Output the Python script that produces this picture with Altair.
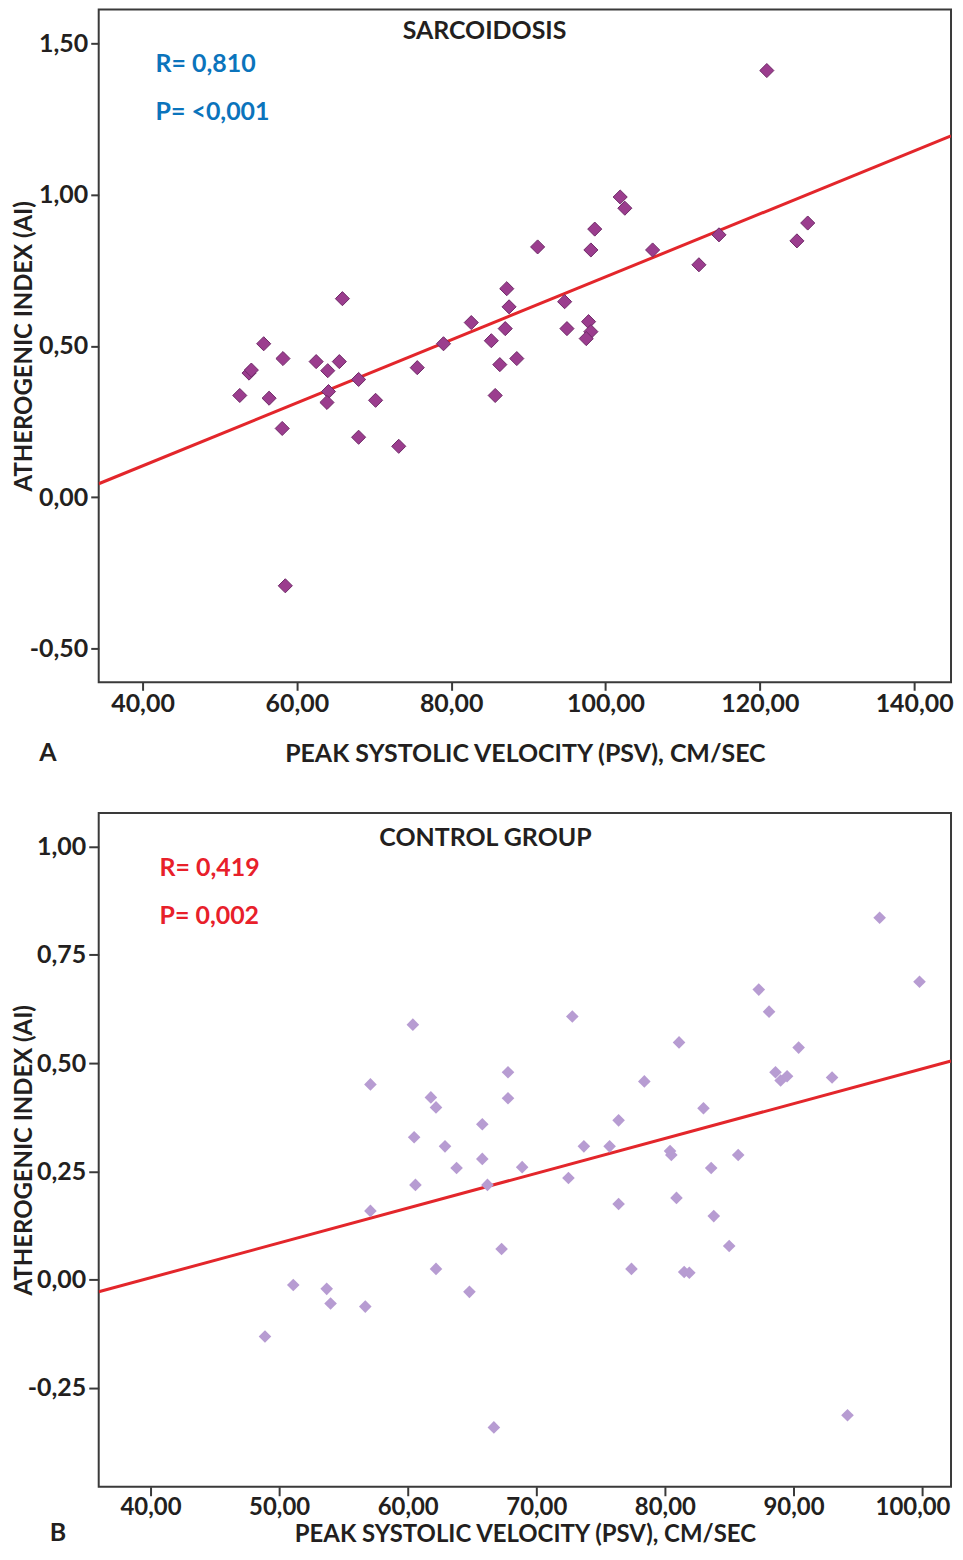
import altair as alt
import pandas as pd

# ---------------- Panel A: sarcoidosis ----------------
sarc_psv = [52.6, 53.8, 54.1, 55.7, 56.4, 58.2, 58.1, 58.5,
            62.5, 64.0, 65.5, 65.9, 64.1, 63.9,
            68.0, 68.0, 70.2, 73.2, 75.6, 79.0,
            82.6, 85.2, 85.7, 86.3, 87.0, 87.2, 87.5, 88.5,
            91.2, 94.7, 95.0, 97.8, 98.1, 97.5, 98.1, 98.6,
            101.9, 102.5, 106.1, 112.1, 114.7, 124.8, 126.2, 120.9]
sarc_ai = [0.336, 0.41, 0.42, 0.507, 0.327, 0.458, 0.227, -0.293,
           0.448, 0.418, 0.448, 0.656, 0.349, 0.313,
           0.389, 0.198, 0.32, 0.168, 0.428, 0.507,
           0.577, 0.517, 0.336, 0.438, 0.557, 0.689, 0.629, 0.458,
           0.827, 0.646, 0.557, 0.58, 0.547, 0.524, 0.817, 0.886,
           0.992, 0.955, 0.817, 0.768, 0.867, 0.847, 0.906, 1.41]
sarc_fit = (-0.313, 0.01041)       # intercept, slope of the fit line
sarc_xdom = [34.32, 144.77]
sarc_ydom = [-0.612, 1.612]
sarc_xticks = [40, 60, 80, 100, 120, 140]
sarc_yticks = [-0.5, 0.0, 0.5, 1.0, 1.5]
sarc_title = "SARCOIDOSIS"
sarc_r = "R= 0,810"
sarc_p = "P= <0,001"

# ---------------- Panel B: control group ----------------
ctrl_psv = [48.9, 51.1, 53.7, 54.0, 56.7, 57.1, 57.1, 60.4, 60.5, 60.6,
            61.8, 62.2, 62.2, 62.9, 63.8, 64.8, 65.8, 65.8, 66.2, 66.7,
            67.3, 67.8, 67.8, 68.9, 72.5, 72.8, 73.7, 75.7, 76.4, 76.4,
            77.4, 78.4, 80.4, 80.5, 80.9, 81.1, 81.5, 81.9, 83.0, 83.6,
            83.8, 85.0, 85.7, 87.3, 88.1, 88.6, 89.0, 89.5, 90.4, 93.0,
            94.2, 96.7, 99.8]
ctrl_ai = [-0.131, -0.012, -0.021, -0.055, -0.062, 0.451, 0.159, 0.589, 0.329, 0.219,
           0.421, 0.398, 0.025, 0.308, 0.258, -0.028, 0.359, 0.279, 0.219, -0.341,
           0.071, 0.479, 0.419, 0.26, 0.235, 0.608, 0.308, 0.308, 0.175, 0.368,
           0.025, 0.458, 0.297, 0.288, 0.189, 0.548, 0.018, 0.016, 0.396, 0.258,
           0.147, 0.078, 0.288, 0.67, 0.619, 0.479, 0.46, 0.47, 0.536, 0.467,
           -0.313, 0.836, 0.688]
ctrl_fit = (-0.317, 0.00804)
ctrl_xdom = [35.97, 102.25]
ctrl_ydom = [-0.478, 1.078]
ctrl_xticks = [40, 50, 60, 70, 80, 90, 100]
ctrl_yticks = [-0.25, 0.0, 0.25, 0.5, 0.75, 1.0]
ctrl_title = "CONTROL GROUP"
ctrl_r = "R= 0,419"
ctrl_p = "P= 0,002"

x_title = "PEAK SYSTOLIC VELOCITY (PSV), CM/SEC"
y_title = "ATHEROGENIC INDEX (AI)"

FONT = "Lato"
DARK = "#231f20"
LABEL_EXPR = "(datum.value < 0 ? '-' : '') + replace(format(abs(datum.value), '.2f'), '.', ',')"


def panel(psv, ai, fit, xdom, ydom, xticks, yticks, title, r_txt, p_txt, letter,
          w, h, point_fill, point_stroke, point_size, stat_color,
          tick_x, tick_y, title_x, x_label_pad, x_title_pad, x_font, flush,
          title_pos, r_pos, p_pos, letter_pos):
    df = pd.DataFrame({"psv": psv, "ai": ai})
    line_df = pd.DataFrame({"psv": xdom,
                            "ai": [fit[0] + fit[1] * v for v in xdom]})
    xscale = alt.Scale(domain=xdom, nice=False, zero=False)
    yscale = alt.Scale(domain=ydom, nice=False, zero=False)
    xaxis = alt.Axis(values=xticks, labelExpr=LABEL_EXPR, title=x_title,
                     tickSize=tick_x, tickWidth=2, tickColor="#3a3a3a",
                     labelPadding=x_label_pad, titlePadding=x_title_pad, domain=False,
                     labelFlush=flush[0], labelFlushOffset=flush[1],
                     labelFont=FONT, labelFontSize=x_font, labelFontWeight="bold",
                     labelColor=DARK, titleFont=FONT, titleFontSize=x_font,
                     titleFontWeight="bold", titleColor=DARK, grid=False)
    yaxis = alt.Axis(values=yticks, labelExpr=LABEL_EXPR, title=y_title,
                     tickSize=tick_y, tickWidth=2, tickColor="#3a3a3a",
                     labelPadding=3, domain=False,
                     labelFont=FONT, labelFontSize=25, labelFontWeight="bold",
                     labelColor=DARK, titleFont=FONT, titleFontSize=24,
                     titleFontWeight="bold", titleColor=DARK, grid=False,
                     titleX=title_x, titleY=h / 2, titleBaseline="alphabetic",
                     titleAngle=270)
    mark_kw = dict(shape="diamond", filled=True, size=point_size, fill=point_fill,
                   opacity=1)
    if point_stroke:
        mark_kw.update(stroke=point_stroke, strokeWidth=1)
    else:
        mark_kw.update(strokeWidth=0)
    pts = alt.Chart(df).mark_point(**mark_kw).encode(
        x=alt.X("psv:Q", scale=xscale, axis=xaxis),
        y=alt.Y("ai:Q", scale=yscale, axis=yaxis))
    line = alt.Chart(line_df).mark_line(color="#e3262b", strokeWidth=3, clip=True).encode(
        x=alt.X("psv:Q", scale=xscale), y=alt.Y("ai:Q", scale=yscale))

    def txt(s, pos, color, align, size=25):
        return alt.Chart(pd.DataFrame({"t": [s]})).mark_text(
            font=FONT, fontSize=size, fontWeight="bold", color=color,
            align=align, baseline="middle").encode(
            text="t:N", x=alt.value(pos[0]), y=alt.value(pos[1]))

    layers = [line, pts,
              txt(title, title_pos, DARK, "center"),
              txt(r_txt, r_pos, stat_color, "left"),
              txt(p_txt, p_pos, stat_color, "left"),
              txt(letter, letter_pos, DARK, "center")]
    return alt.layer(*layers).properties(width=w, height=h)


top = panel(sarc_psv, sarc_ai, sarc_fit, sarc_xdom, sarc_ydom, sarc_xticks, sarc_yticks,
            sarc_title, sarc_r, sarc_p, "A", 855, 675,
            "#9b3d8e", "#6e2a67", 200, "#0b74bc",
            8, 8, -67.2, 1, 25, 25, (False, 0),
            (387, 22), (57, 55), (57, 103), (-51, 746))
bottom = panel(ctrl_psv, ctrl_ai, ctrl_fit, ctrl_xdom, ctrl_ydom, ctrl_xticks, ctrl_yticks,
               ctrl_title, ctrl_r, ctrl_p, "B", 855, 676,
               "#b79cd2", None, 160, "#e8202a",
               9, 10, -67.2, 0, 3, 24, (40, 28),
               (388, 25), (61, 55), (61, 103), (-41, 722))

chart = alt.vconcat(top, bottom, spacing=45).properties(
    padding={"left": 3, "top": -2, "right": 0, "bottom": -4}, background="white"
).configure_view(stroke="#3a3a3a", strokeWidth=2)

chart.save("out.html", embed_options={"renderer": "svg", "actions": False})
